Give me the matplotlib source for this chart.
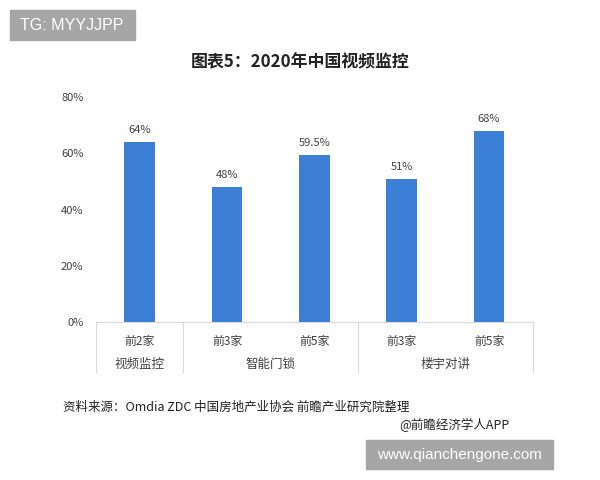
import matplotlib
matplotlib.use("Agg")
import matplotlib.pyplot as plt
from matplotlib.patches import Rectangle

plt.rcParams["font.family"] = ["Noto Sans CJK SC", "DejaVu Sans"]

# data
sub_labels = ["前2家", "前3家", "前5家", "前3家", "前5家"]
values = [64, 48, 59.5, 51, 68]
value_text = ["64%", "48%", "59.5%", "51%", "68%"]
groups = ["视频监控", "智能门锁", "楼宇对讲"]
group_sizes = [1, 2, 2]
yticks = [0, 20, 40, 60, 80]

BAR = "#3B7FD6"
GRID = "#d9d9d9"
TXT = "#404040"

fig = plt.figure(figsize=(6, 4.8), dpi=100)
ax = fig.add_axes([0.16, 0.329, 0.728, 0.469])

x = list(range(len(values)))
ax.bar(x, values, width=0.35, color=BAR)
for xi, v, t in zip(x, values, value_text):
    ax.text(xi, v + 2.5, t, ha="center", va="bottom", fontsize=8, color=TXT)

ax.set_xlim(-0.5, len(values) - 0.5)
ax.set_ylim(0, 80)
ax.set_yticks(yticks)
ax.set_yticklabels([f"{t}%" for t in yticks], fontsize=8, color=TXT)
ax.tick_params(axis="y", length=0, pad=9)
ax.set_xticks([])
for s in ["top", "right", "left"]:
    ax.spines[s].set_visible(False)
ax.spines["bottom"].set_color(GRID)

# category axis: sub labels, group labels, separators
trans = ax.get_xaxis_transform()
for xi, lab in zip(x, sub_labels):
    ax.text(xi, -0.085, lab, transform=trans, ha="center", va="center",
            fontsize=8.6, color=TXT)
start = -0.5
bounds = [start]
for gname, n in zip(groups, group_sizes):
    end = start + n
    ax.text((start + end) / 2, -0.19, gname, transform=trans, ha="center",
            va="center", fontsize=9, color=TXT)
    bounds.append(end)
    start = end
for b in bounds:
    ax.plot([b, b], [0, -0.22], transform=trans, color=GRID, lw=0.8,
            clip_on=False)

fig.text(0.5, 0.87, "图表5：2020年中国视频监控", ha="center", va="center",
         fontsize=12.2, fontweight="bold", color="#222222")
fig.text(0.105, 0.152, "资料来源：Omdia ZDC 中国房地产业协会 前瞻产业研究院整理",
         ha="left", va="center", fontsize=9, color="#222222")
fig.text(0.85, 0.115, "@前瞻经济学人APP", ha="right", va="center",
         fontsize=9, color="#222222")

# gray badges
fig.patches.append(Rectangle((10 / 600, 1 - 40 / 480), 125 / 600, 30 / 480,
                             transform=fig.transFigure, color="#a6a6a6"))
fig.text(72 / 600, 1 - 25 / 480, "TG: MYYJJPP", ha="center", va="center",
         fontsize=11.5, color="white", family=["Liberation Sans"])
fig.patches.append(Rectangle((366 / 600, 1 - 469 / 480), 187 / 600, 29 / 480,
                             transform=fig.transFigure, color="#a6a6a6"))
fig.text(459 / 600, 1 - 454.5 / 480, "www.qianchengone.com", ha="center",
         va="center", fontsize=11, color="white", family=["Liberation Sans"])

fig.savefig("out.png", dpi=100)
